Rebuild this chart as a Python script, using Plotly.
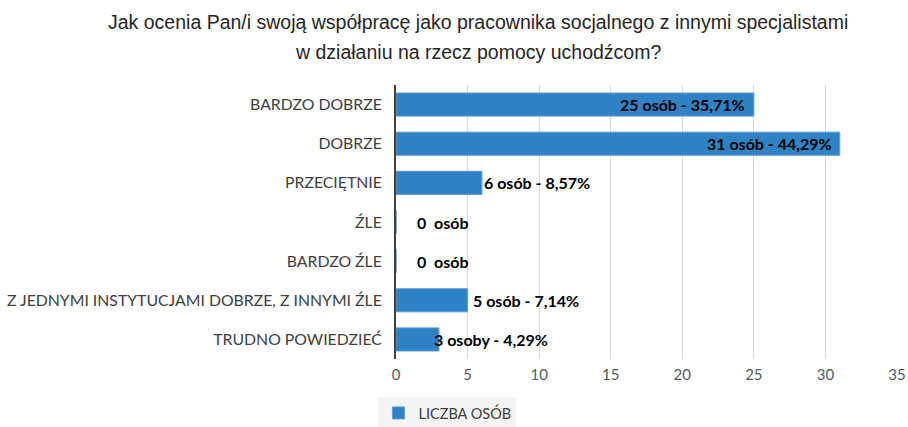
import plotly.graph_objects as go

categories = ["BARDZO DOBRZE", "DOBRZE", "PRZECIĘTNIE", "ŹLE", "BARDZO ŹLE",
              "Z JEDNYMI INSTYTUCJAMI DOBRZE, Z INNYMI ŹLE", "TRUDNO POWIEDZIEĆ"]
values = [25, 31, 6, 0, 0, 5, 3]
labels = ["25 osób - 35,71%", "31 osób - 44,29%", "6 osób - 8,57%", "0  osób",
          "0  osób", "5 osób - 7,14%", "3 osoby - 4,29%"]
label_shifts = [-7, -6, 0, 19, 19, 3, -7]
label_anchors = ["right", "right", "left", "left", "left", "left", "left"]
series_name = "LICZBA OSÓB"
title_lines = ["Jak ocenia Pan/i swoją współpracę jako pracownika socjalnego z innymi specjalistami",
               "w działaniu na rzecz pomocy uchodźcom?"]

fig = go.Figure()
fig.add_trace(go.Bar(
    y=categories, x=values, orientation="h", name=series_name,
    marker=dict(color="#2f82c4", line=dict(color="#5b9bd5", width=1)),
    showlegend=True,
))

label_font = dict(family="Lato, Carlito, Open Sans, sans-serif", size=16, color="#000000")
for cat, v, lab, sh, anc in zip(categories, values, labels, label_shifts, label_anchors):
    fig.add_annotation(x=v, y=cat, text="<b>%s</b>" % lab, showarrow=False,
                       xanchor=anc, xshift=sh, font=label_font)

title_font = dict(family="Liberation Sans Narrow, Arial Narrow, Liberation Sans, sans-serif",
                  size=19.5, color="#262626")
for ypx, line in zip([22, 52], title_lines):
    fig.add_annotation(x=(478 - 396) / 501, xref="paper", xanchor="center",
                       y=(359 - ypx) / 274, yref="paper", yanchor="middle",
                       text=line, showarrow=False, font=title_font)

fig.update_layout(
    width=908, height=427,
    margin=dict(l=396, r=11, t=85, b=68, autoexpand=False),
    paper_bgcolor="white", plot_bgcolor="white",
    bargap=0.41,
    xaxis=dict(range=[0, 35], dtick=5, showgrid=True, gridcolor="#d9d9d9", gridwidth=1,
               zeroline=False, showline=False, ticks="", automargin=False,
               ticklabelstandoff=5,
               tickfont=dict(family="Lato, Carlito, sans-serif", size=15, color="#595959")),
    yaxis=dict(autorange="reversed", showline=True, linecolor="#404040", linewidth=2,
               ticks="", ticklabelstandoff=9, automargin=False,
               tickfont=dict(family="Lato, Carlito, sans-serif", size=15.8, color="#404040")),
    legend=dict(orientation="h", x=-0.035, xref="paper", xanchor="left",
                y=(359 - 413) / 274, yanchor="middle", bgcolor="#f4f4f4", itemwidth=30,
                font=dict(family="Lato, Carlito, sans-serif", size=14.5, color="#404040")),
)

fig.write_html("out.html", config={"displayModeBar": False},
               post_script="document.body.style.margin='0';document.body.style.overflow='hidden';")
